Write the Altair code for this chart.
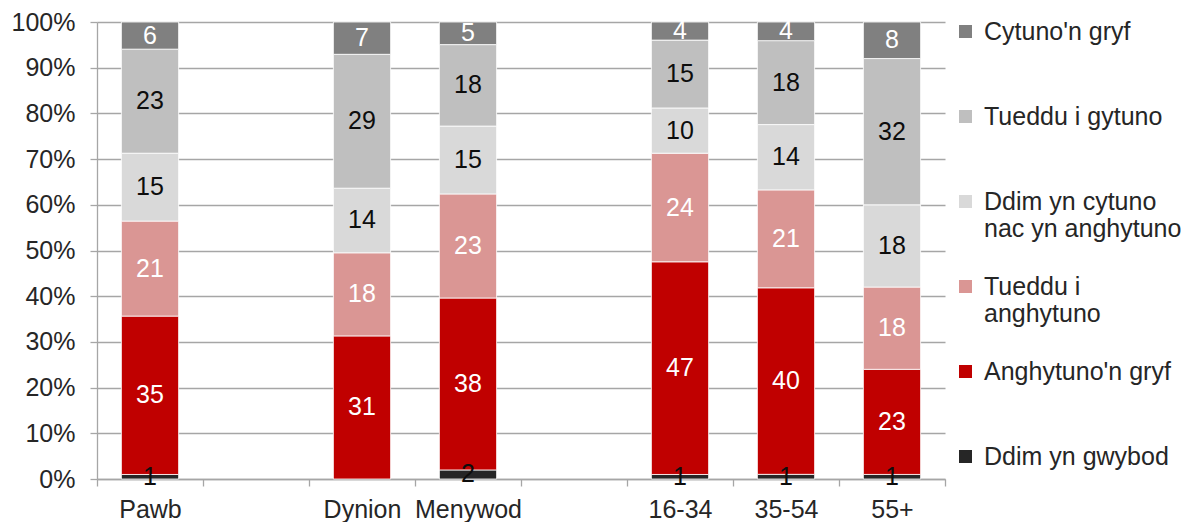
import altair as alt
import pandas as pd

# x slots (two blank spacer slots, as in the reference)
categories = ["Pawb", " ", "Dynion", "Menywod", "  ", "16-34", "35-54", "55+"]

# series, stacked from bottom to top
series = [
    "Ddim yn gwybod",
    "Anghytuno'n gryf",
    "Tueddu i anghytuno",
    "Ddim yn cytuno nac yn anghytuno",
    "Tueddu i gytuno",
    "Cytuno'n gryf",
]
series_colors = ["#262626", "#C00000", "#DA9694", "#D9D9D9", "#BFBFBF", "#808080"]

# values per group, same order as `series` (None = not shown)
pawb = [1, 35, 21, 15, 23, 6]
dynion = [None, 31, 18, 14, 29, 7]
menywod = [2, 38, 23, 15, 18, 5]
age_16_34 = [1, 47, 24, 10, 15, 4]
age_35_54 = [1, 40, 21, 14, 18, 4]
age_55_plus = [1, 23, 18, 18, 32, 8]

groups = {
    "Pawb": pawb,
    "Dynion": dynion,
    "Menywod": menywod,
    "16-34": age_16_34,
    "35-54": age_35_54,
    "55+": age_55_plus,
}

rows = []
for cat, vals in groups.items():
    for i, (s, v) in enumerate(zip(series, vals)):
        if v is None:
            continue
        rows.append({"category": cat, "series": s, "ord": i, "value": v})
df = pd.DataFrame(rows)

legend_order = list(reversed(series))
legend_colors = list(reversed(series_colors))

FONT = "Liberation Sans"
TXT = "#262626"
GRID = "#A6A6A6"

# every legend label is given two lines so that the entries are evenly spaced
label_expr = (
    "datum.label == 'Ddim yn cytuno nac yn anghytuno' ? ['Ddim yn cytuno', 'nac yn anghytuno'] : "
    "datum.label == 'Tueddu i anghytuno' ? ['Tueddu i', 'anghytuno'] : [datum.label, ' ']"
)

base = (
    alt.Chart(df)
    .transform_stack(
        stack="value",
        groupby=["category"],
        as_=["v0", "v1"],
        offset="normalize",
        sort=[alt.SortField("ord", order="ascending")],
    )
    .transform_calculate(mid="(datum.v0 + datum.v1) / 2")
)

x_enc = alt.X(
    "category:N",
    scale=alt.Scale(domain=categories, paddingInner=0, paddingOuter=0),
    axis=alt.Axis(
        title=None,
        labelAngle=0,
        labelFont=FONT,
        labelFontSize=25,
        labelColor=TXT,
        labelPadding=11,
        tickBand="extent",
        tickSize=7,
        tickColor=GRID,
        tickWidth=1.3,
        domainColor=GRID,
        domainWidth=1.3,
        grid=False,
    ),
)

bars = base.mark_bar(width=alt.RelativeBandSize(0.54), stroke="white", strokeWidth=0.8).encode(
    x=x_enc,
    y=alt.Y(
        "v0:Q",
        scale=alt.Scale(domain=[0, 1], nice=False),
        axis=alt.Axis(
            title=None,
            format=".0%",
            values=[i / 10 for i in range(11)],
            labelFont=FONT,
            labelFontSize=25,
            labelColor=TXT,
            labelPadding=15,
            tickSize=7,
            tickColor=GRID,
            tickWidth=1.3,
            domainColor=GRID,
            domainWidth=1.3,
            gridColor=GRID,
            gridWidth=1.3,
        ),
    ),
    y2="v1:Q",
    color=alt.Color(
        "series:N",
        scale=alt.Scale(domain=legend_order, range=legend_colors),
        legend=alt.Legend(
            title=None,
            orient="none",
            legendX=856,
            legendY=-3,
            symbolType="square",
            symbolSize=170,
            symbolStrokeWidth=0,
            labelFont=FONT,
            labelFontSize=25,
            labelColor=TXT,
            labelOffset=6,
            labelLimit=400,
            rowPadding=32,
            labelExpr=label_expr,
        ),
    ),
)

dark_series = ["Tueddu i gytuno", "Ddim yn cytuno nac yn anghytuno", "Ddim yn gwybod"]
labels = base.mark_text(font=FONT, fontSize=25, baseline="middle", align="center").encode(
    x=alt.X("category:N", scale=alt.Scale(domain=categories, paddingInner=0, paddingOuter=0)),
    y=alt.Y("mid:Q"),
    text=alt.Text("value:Q"),
    color=alt.condition(
        alt.FieldOneOfPredicate(field="series", oneOf=dark_series),
        alt.value("#0D0D0D"),
        alt.value("#FFFFFF"),
    ),
)

chart = (
    alt.layer(bars, labels)
    .properties(
        width=848,
        height=457,
        padding={"left": 89, "top": 14, "right": 238, "bottom": 43},
        autosize=alt.AutoSizeParams(type="none"),
    )
    .configure_view(stroke=None)
)

chart.save("out.html", embed_options={"renderer": "svg", "actions": False})
